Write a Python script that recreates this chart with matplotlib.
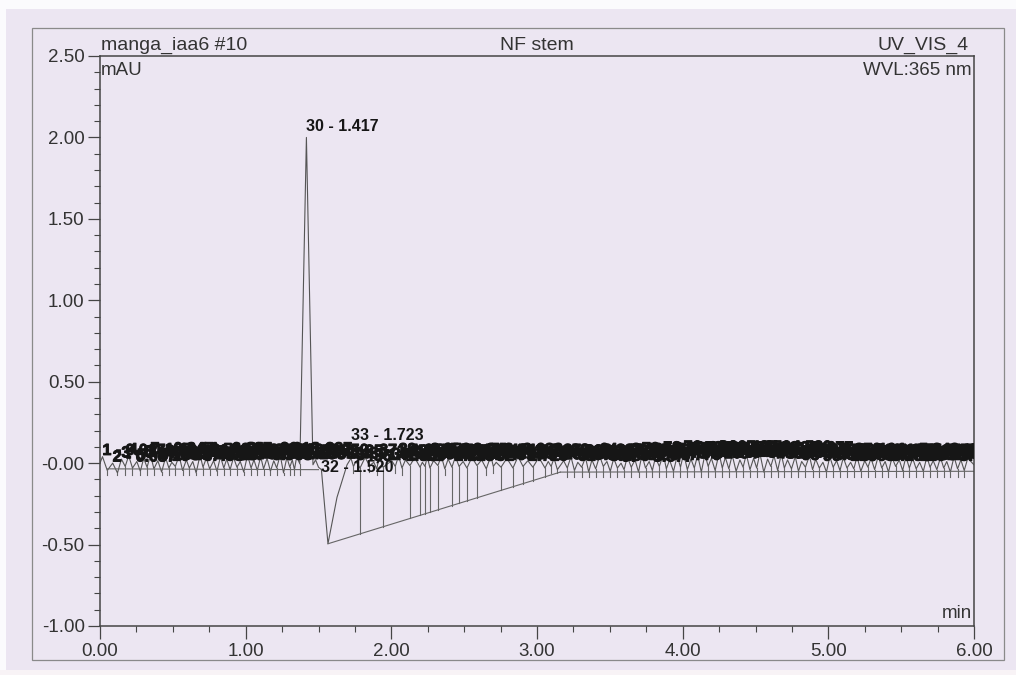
import numpy as np
import matplotlib
matplotlib.use("Agg")
import matplotlib.pyplot as plt
import matplotlib.patheffects as pe
from matplotlib.patches import Rectangle
from matplotlib.ticker import FixedLocator, MultipleLocator

plt.rcParams['font.family'] = ['Liberation Sans', 'DejaVu Sans']

# ---- integrated peaks: retention time (min) and apex signal (mAU) ----
peak_times = [
    0.017, 0.087, 0.147, 0.197, 0.253, 0.300, 0.347, 0.397, 0.450, 0.493,
    0.543, 0.593, 0.637, 0.687, 0.730, 0.780, 0.827, 0.870, 0.917, 0.963,
    1.013, 1.057, 1.103, 1.147, 1.193, 1.237, 1.283, 1.320, 1.350,
    1.417, 1.480, 1.520, 1.723,
    1.757, 1.820, 1.880, 1.917, 2.003, 2.050, 2.097, 2.160, 2.213, 2.247,
    2.290, 2.343, 2.390, 2.440, 2.493, 2.553, 2.620, 2.683, 2.720, 2.793,
    2.870, 2.937, 3.013, 3.077, 3.117,
    3.183, 3.233, 3.280, 3.333, 3.377, 3.430, 3.480, 3.527, 3.577, 3.620,
    3.673, 3.720, 3.770, 3.813, 3.867, 3.910, 3.963, 4.007, 4.057, 4.103,
    4.153, 4.197, 4.250, 4.293, 4.340, 4.393, 4.437, 4.487, 4.530, 4.583,
    4.627, 4.677, 4.720, 4.773, 4.817, 4.870, 4.913, 4.963, 5.010, 5.057,
    5.103, 5.153, 5.197, 5.250, 5.293, 5.343, 5.390, 5.437, 5.487, 5.533,
    5.579, 5.627, 5.677, 5.720, 5.770, 5.813, 5.863, 5.910, 5.957,
]
peak_heights = [
    0.040, 0.000, 0.025, 0.045, 0.010, 0.030, 0.050, 0.015, 0.035, 0.005,
    0.045, 0.020, 0.010, 0.050, 0.030, 0.015, 0.040, 0.025, 0.035, 0.010,
    0.050, 0.020, 0.040, 0.030, 0.015, 0.050, 0.035, 0.020, 0.040,
    2.000, 0.020, -0.040, 0.030,
    0.010, 0.035, 0.005, 0.040, 0.015, 0.045, 0.020, 0.035, 0.005, 0.040,
    0.015, 0.045, 0.025, 0.040, 0.010, 0.035, 0.020, 0.045, 0.005, 0.030,
    0.040, 0.015, 0.035, 0.010, 0.030,
    0.015, 0.040, 0.005, 0.035, 0.020, 0.045, 0.010, 0.030, 0.000, 0.040,
    0.020, 0.050, 0.010, 0.035, 0.055, 0.020, 0.045, 0.060, 0.025, 0.050,
    0.055, 0.030, 0.060, 0.035, 0.050, 0.020, 0.055, 0.030, 0.060, 0.025,
    0.045, 0.055, 0.020, 0.040, 0.010, 0.045, 0.025, 0.005, 0.040, 0.015,
    0.035, 0.005, 0.040, 0.015, 0.030, 0.045, 0.010, 0.035, 0.020, 0.040,
    0.030, 0.005, 0.040, 0.015, 0.035, 0.010, 0.040, 0.020, 0.030,
]

# ---- valleys (peak boundaries) between the peaks ----
valley_times = [
    0.050, 0.120, 0.173, 0.223, 0.277, 0.323, 0.370, 0.423, 0.473, 0.517,
    0.567, 0.613, 0.660, 0.707, 0.753, 0.803, 0.850, 0.893, 0.940, 0.987,
    1.037, 1.080, 1.123, 1.170, 1.213, 1.260, 1.303, 1.335, 1.372,
    1.462, 1.500, 1.565,
    1.740, 1.785, 1.850, 1.900, 1.943, 2.027, 2.073, 2.128, 2.197, 2.231,
    2.265, 2.320, 2.367, 2.416, 2.465, 2.519, 2.588, 2.652, 2.700, 2.753,
    2.835, 2.904, 2.972, 3.055, 3.097, 3.140,
    3.208, 3.257, 3.307, 3.355, 3.403, 3.455, 3.503, 3.552, 3.598, 3.647,
    3.697, 3.745, 3.792, 3.840, 3.888, 3.937, 3.985, 4.032, 4.080, 4.128,
    4.175, 4.223, 4.272, 4.317, 4.367, 4.415, 4.462, 4.508, 4.557, 4.605,
    4.652, 4.698, 4.747, 4.795, 4.843, 4.892, 4.938, 4.987, 5.033, 5.080,
    5.128, 5.175, 5.223, 5.272, 5.318, 5.367, 5.413, 5.462, 5.510, 5.556,
    5.603, 5.652, 5.698, 5.745, 5.792, 5.838, 5.887, 5.933,
]
valley_depths = [
    -0.045, -0.060, -0.020, -0.030, -0.050, -0.025, -0.035, -0.055, -0.030, -0.020,
    -0.045, -0.030, -0.060, -0.025, -0.035, -0.050, -0.030, -0.040, -0.025, -0.055,
    -0.030, -0.045, -0.035, -0.050, -0.030, -0.060, -0.025, -0.040, -0.005,
    -0.010, -0.025, -0.495,
    -0.020, -0.030, -0.015, -0.035, -0.025, -0.020, -0.030, -0.015, -0.025, -0.020,
    -0.030, -0.015, -0.035, -0.025, -0.020, -0.030, -0.015, -0.035, -0.020, -0.025,
    -0.030, -0.020, -0.025, -0.030, -0.020, -0.040,
    -0.030, -0.045, -0.025, -0.055, -0.035, -0.020, -0.050, -0.030, -0.040, -0.025,
    -0.055, -0.030, -0.045, -0.020, -0.035, -0.050, -0.025, -0.040, -0.030, -0.055,
    -0.020, -0.045, -0.030, -0.035, -0.050, -0.025, -0.040, -0.030, -0.055, -0.020,
    -0.045, -0.030, -0.035, -0.050, -0.025, -0.040, -0.030, -0.055, -0.025, -0.045,
    -0.030, -0.035, -0.050, -0.025, -0.040, -0.030, -0.055, -0.020, -0.045, -0.030,
    -0.035, -0.050, -0.025, -0.040, -0.030, -0.055, -0.035, -0.045,
]

# delimiters that reach down to the sloped baseline after the negative dip
long_drop_times = [1.785, 1.943, 2.128, 2.197, 2.231, 2.265, 2.320, 2.416,
                   2.465, 2.519, 2.588, 2.753, 2.835, 2.904, 2.972, 3.055, 3.140]

# trace start/end and the recovery flank of the negative dip
extra_times = [0.0, 1.627, 1.696, 6.0]
extra_values = [0.0, -0.21, -0.01, -0.01]

# baselines drawn by the integrator
base_left_t, base_left_v = [0.05, 1.50], [-0.035, -0.040]
base_slope_t, base_slope_v = [1.565, 3.16], [-0.495, -0.055]
base_right_t, base_right_v = [3.16, 6.0], [-0.055, -0.050]

xtick_values = [0, 1, 2, 3, 4, 5, 6]
xtick_labels = ["0.00", "1.00", "2.00", "3.00", "4.00", "5.00", "6.00"]
ytick_values = [-1.0, -0.5, 0.0, 0.5, 1.0, 1.5, 2.0, 2.5]
ytick_labels = ["-1.00", "-0.50", "-0.00", "0.50", "1.00", "1.50", "2.00", "2.50"]

paper = '#ece6f2'
ink = '#333333'

W, H = 1016, 675
fig = plt.figure(figsize=(W / 100, H / 100), dpi=100, facecolor=paper)

# outer printout frame
fig.patches.append(Rectangle((32 / W, 1 - 660 / H), 972 / W, 632 / H,
                             transform=fig.transFigure, fill=False,
                             edgecolor='#8a8a8a', linewidth=0.9))
# unprinted paper edges
fig.patches.append(Rectangle((0, 1 - 9 / H), 1, 9 / H, transform=fig.transFigure,
                             facecolor='#fbfbfd', edgecolor='none'))
fig.patches.append(Rectangle((0, 0), 6 / W, 1, transform=fig.transFigure,
                             facecolor='#fbfbfd', edgecolor='none'))
fig.patches.append(Rectangle((0, 0), 1, 5 / H, transform=fig.transFigure,
                             facecolor='#f8f3f6', edgecolor='none'))

ax = fig.add_axes([100 / W, 1 - 626 / H, 874 / W, 570 / H])
ax.set_facecolor(paper)
ax.set_xlim(0, 6)
ax.set_ylim(-1.0, 2.5)

# chromatogram trace
pts = sorted(zip(peak_times + valley_times + extra_times,
                 peak_heights + valley_depths + extra_values))
tt = np.array([p[0] for p in pts])
vv = np.array([p[1] for p in pts])
ax.plot(tt, vv, color='#555555', linewidth=0.8)

# baselines
for bt, bv in ((base_left_t, base_left_v), (base_slope_t, base_slope_v),
               (base_right_t, base_right_v)):
    ax.plot(bt, bv, color='#666666', linewidth=0.8)

# peak delimiters dropped from each valley
for t, d in zip(valley_times, valley_depths):
    if 1.40 < t <= 1.57:
        continue
    if t < 1.4:
        bottom = -0.075
    elif t in long_drop_times:
        bottom = np.interp(t, base_slope_t, base_slope_v)
    elif t < base_slope_t[1]:
        bottom = d - 0.04
    else:
        bottom = -0.085
    ax.plot([t, t], [d, bottom], color='#666666', linewidth=0.8)

# peak labels
label_y = {30: 2.02, 32: -0.07, 33: 0.125}
heavy = [pe.withStroke(linewidth=0.7, foreground='#161616')]
for n, (t, h) in enumerate(zip(peak_times, peak_heights), start=1):
    y = label_y.get(n, h - 0.008)
    ax.text(t, y, f"{n} - {t:.3f}", ha='left', va='bottom', fontsize=11.5,
            fontweight='bold', color='#161616', clip_on=True,
            path_effects=None if n in label_y else heavy)

# axes styling
for s in ax.spines.values():
    s.set_color('#454545')
    s.set_linewidth(1.1)
ax.xaxis.set_major_locator(FixedLocator(xtick_values))
ax.set_xticklabels(xtick_labels)
ax.xaxis.set_minor_locator(MultipleLocator(0.25))
ax.yaxis.set_major_locator(FixedLocator(ytick_values))
ax.set_yticklabels(ytick_labels)
ax.yaxis.set_minor_locator(MultipleLocator(0.1))
ax.tick_params(which='major', direction='out', length=9, width=0.9,
               color='#454545', labelsize=13.5, labelcolor=ink, pad=2)
ax.tick_params(which='minor', direction='out', length=4.5, width=0.8,
               color='#454545')
ax.tick_params(axis='x', which='major', pad=3)

# header and unit annotations
def note(x, y, s, ha, va, dx=0, dy=0, size=14):
    ax.annotate(s, (x, y), xycoords='axes fraction', xytext=(dx, dy),
                textcoords='offset points', ha=ha, va=va, fontsize=size,
                color=ink)

note(0.0, 1.0, "manga_iaa6 #10", 'left', 'baseline', dx=0.5, dy=4.5)
note(0.5, 1.0, "NF stem", 'center', 'baseline', dy=4.5)
note(1.0, 1.0, "UV_VIS_4", 'right', 'baseline', dx=-4, dy=4.5)
note(0.0, 1.0, "mAU", 'left', 'top', dx=0.5, dy=-4, size=13.5)
note(1.0, 1.0, "WVL:365 nm", 'right', 'top', dx=-2, dy=-4, size=13.5)
note(1.0, 0.0, "min", 'right', 'baseline', dx=-1.5, dy=6, size=13.5)

fig.savefig("out.png", dpi=100, facecolor=paper)
